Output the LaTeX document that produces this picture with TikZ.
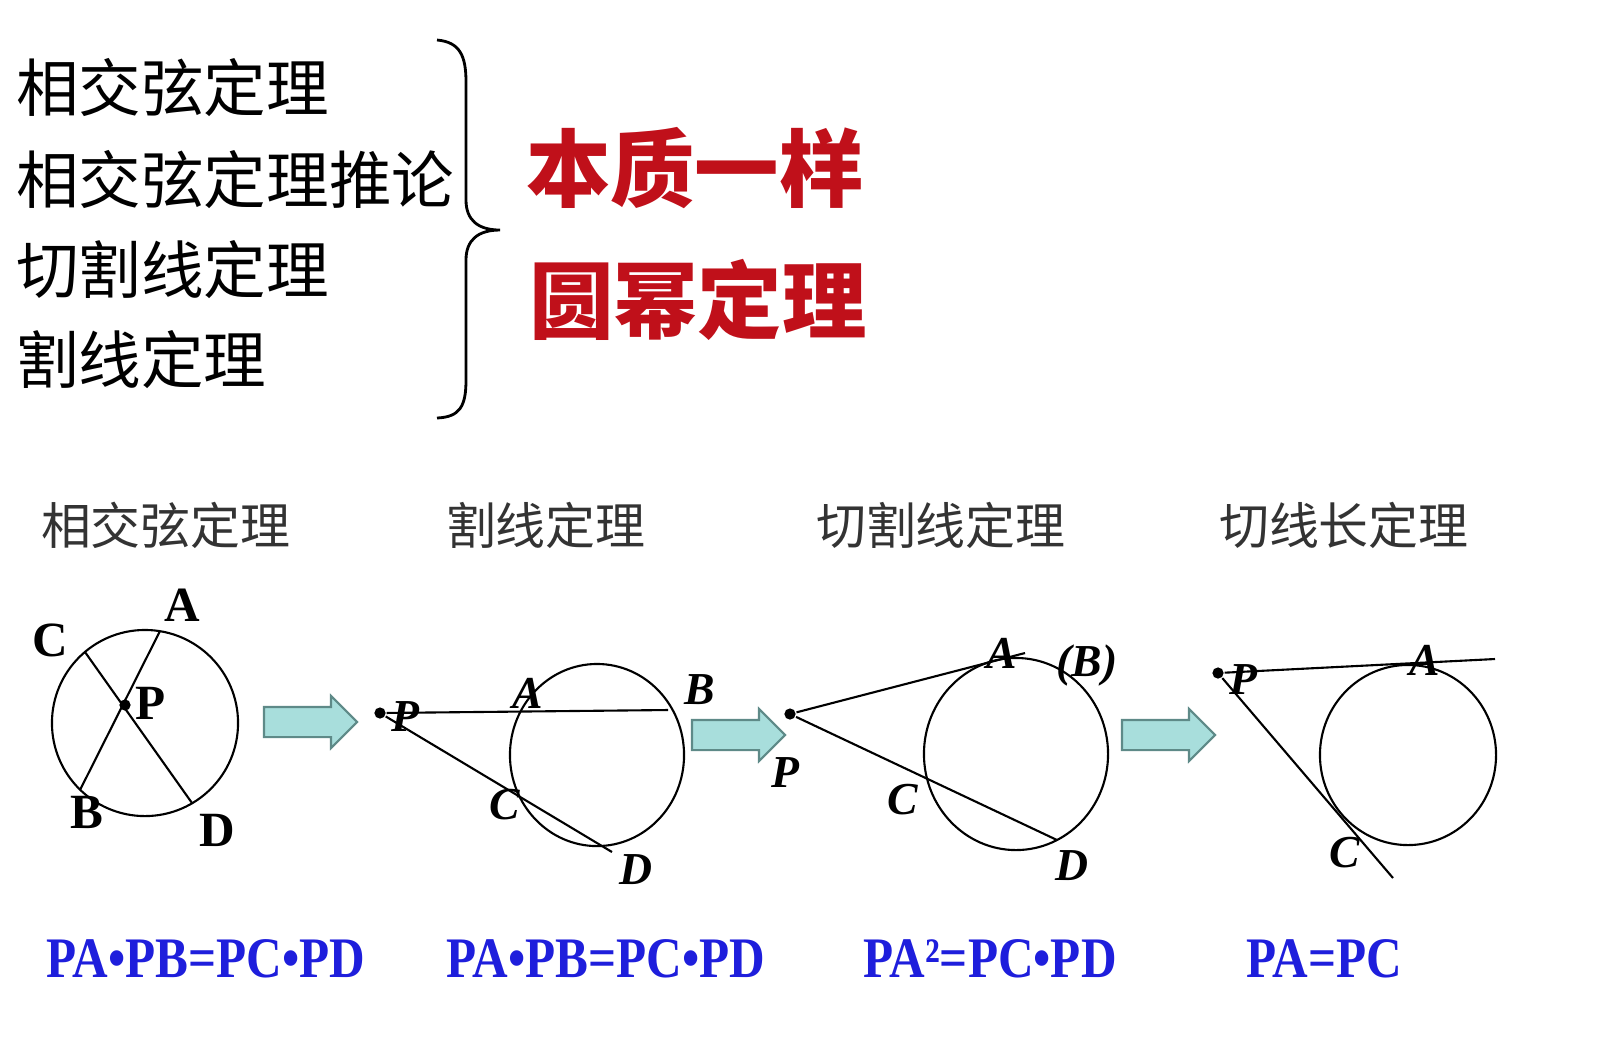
\documentclass[tikz,border=0pt]{standalone}
\usepackage{fontspec}
\setmainfont{Liberation Serif}
\newfontfamily\cjk{Noto Sans CJK SC}
\newfontfamily\eqfont[FakeStretch=0.86]{Liberation Serif}
\usepackage{xcolor}
\usetikzlibrary{positioning,shapes.arrows}
\definecolor{arrowfill}{HTML}{A8DEDC}
\definecolor{arrowline}{HTML}{5E8A88}
\definecolor{stampred}{HTML}{C0101A}
\definecolor{eqblue}{HTML}{1E1EDC}
\definecolor{titlegray}{HTML}{333333}

\tikzset{
  listitem/.style={anchor=west, inner sep=0pt, font=\cjk\fontsize{17.8}{20}\selectfont},
  stamp/.style={anchor=west, inner sep=0pt, text=stampred, font=\cjk\bfseries\fontsize{24}{28}\selectfont},
  title/.style={anchor=west, inner sep=0pt, text=titlegray, font=\cjk\fontsize{14.2}{16}\selectfont},
  formula/.style={anchor=base west, inner sep=0pt, text=eqblue, font=\eqfont\bfseries\fontsize{16.3}{18}\selectfont},
  lbl/.style={inner sep=0pt, font=\bfseries\fontsize{14}{16}\selectfont},
  ilbl/.style={inner sep=0pt, font=\bfseries\itshape\fontsize{13}{15}\selectfont},
  bigarrow/.style={single arrow, draw=arrowline, fill=arrowfill, line width=0.6pt,
    minimum height=0.93cm, inner sep=0.14cm, single arrow head extend=0.11cm,
    single arrow head indent=0pt},
  dot/.style={circle, fill, inner sep=0pt, minimum size=3.2pt}
}

\begin{document}
\begin{tikzpicture}[x=0.01cm, y=-0.01cm, line width=0.6pt]
    \useasboundingbox (0,0) rectangle (1597,1059);

    % theorem list and brace
    \node[listitem] (t1) at (15,88) {相交弦定理};
    \node[listitem] (t2) at (15,180) {相交弦定理推论};
    \node[listitem] (t3) at (15,270) {切割线定理};
    \node[listitem] (t4) at (15,360) {割线定理};
    \draw[line width=0.8pt] (437,40) .. controls (460,42) and (466,56) .. (466,82) -- (466,200)
        .. controls (466,220) and (478,230) .. (500,230)
        .. controls (478,230) and (466,240) .. (466,260) -- (466,380)
        .. controls (466,406) and (460,417) .. (437,418);
    \node[stamp] (s1) at (525,168) {本质一样};
    \node[stamp] (s2) at (528,300) {圆幂定理};

    % titles
    \node[title] (h1) at (40,525) {相交弦定理};
    \node[title] (h2) at (445,525) {割线定理};
    \node[title] (h3) at (815,525) {切割线定理};
    \node[title] (h4) at (1218,525) {切线长定理};

    % figure 1: intersecting chords
    \draw (145,723) circle[radius=0.93cm];
    \coordinate (a1) at (160,631);
    \coordinate (b1) at (80,790);
    \coordinate (c1) at (85,652);
    \coordinate (d1) at (192,803);
    \draw (a1) -- (b1);
    \draw (c1) -- (d1);
    \node[dot] (p1) at (125,705) {};
    \node[lbl] at (182,605) {A};
    \node[lbl] at (50,640) {C};
    \node[lbl] at (151,703) {P};
    \node[lbl] at (87,812) {B};
    \node[lbl] at (217,830) {D};

    % figure 2: secants
    \draw (597,755) ellipse[x radius=0.87cm, y radius=0.91cm];
    \node[dot] (p2) at (380,713) {};
    \coordinate (b2) at (668,710);
    \coordinate (d2) at (612,852);
    \draw (p2) -- (b2);
    \draw (p2) -- (d2);
    \node[ilbl] at (405,717) {P};
    \node[ilbl] at (528,693) {A};
    \node[ilbl] at (700,690) {B};
    \node[ilbl] at (505,805) {C};
    \node[ilbl] at (636,870) {D};

    % figure 3: tangent and secant
    \draw (1016,754) ellipse[x radius=0.92cm, y radius=0.96cm];
    \node[dot] (p3) at (790,714) {};
    \coordinate (a3) at (1025,653);
    \coordinate (d3) at (1057,840);
    \draw (p3) -- (a3);
    \draw (p3) -- (d3);
    \node[ilbl] at (1002,653) {A};
    \node[ilbl] at (1087,665) {(B)};
    \node[ilbl] at (785,773) {P};
    \node[ilbl] at (903,800) {C};
    \node[ilbl] at (1072,866) {D};

    % figure 4: two tangents
    \draw (1408,755) ellipse[x radius=0.88cm, y radius=0.90cm];
    \node[dot] (p4) at (1218,673) {};
    \coordinate (a4) at (1495,659);
    \coordinate (c4) at (1393,878);
    \draw (p4) -- (a4);
    \draw (p4) -- (c4);
    \node[ilbl] at (1243,680) {P};
    \node[ilbl] at (1425,660) {A};
    \node[ilbl] at (1345,853) {C};

    % arrows between figures
    \node[bigarrow] (r1) at (303,722) {};
    \node[bigarrow] (r2) at (731,735) {};
    \node[bigarrow] (r3) at (1161,735) {};

    % formulas
    \node[formula] (f1) at (45,977) {PA•PB=PC•PD};
    \node[formula] (f2) at (445,977) {PA•PB=PC•PD};
    \node[formula] (f3) at (862,977) {PA²=PC•PD};
    \node[formula] (f4) at (1245,977) {PA=PC};
\end{tikzpicture}
\end{document}
